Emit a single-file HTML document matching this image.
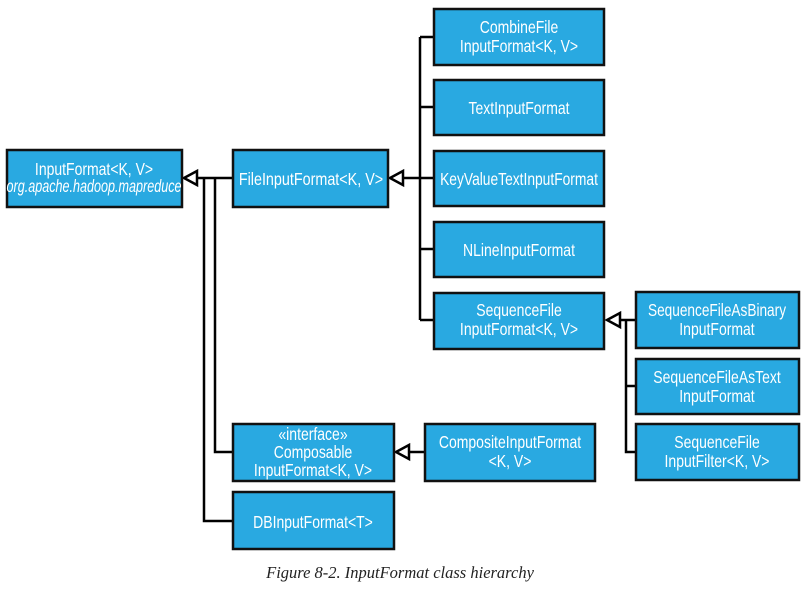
<!DOCTYPE html>
<html><head><meta charset="utf-8"><style>
html,body{margin:0;padding:0;background:#fff;width:808px;height:589px;overflow:hidden}
svg text.t{font-family:"Liberation Sans",sans-serif;font-size:17.5px;fill:#fff;text-anchor:middle}
</style></head><body>
<svg width="808" height="589" xmlns="http://www.w3.org/2000/svg">
<g fill="none" stroke="#000" stroke-width="2.5">
<path d="M197 178H233"/>
<path d="M204 178V521H233"/>
<path d="M215 178V452H233"/>
<path d="M404 178H420"/>
<path d="M420 37V320"/>
<path d="M420 37H434M420 107H434M420 178H434M420 249H434M420 320H434"/>
<path d="M620 320H636M626 320V452H636M626 386H636"/>
<path d="M410 452H425"/>
</g>
<g fill="#fff" stroke="#000" stroke-width="2.5">
<path d="M184 178L197 171V185Z"/>
<path d="M390 178L403 171V185Z"/>
<path d="M607 320L620 313V327Z"/>
<path d="M396 452L409 445V459Z"/>
</g>
<g fill="#29a9e1" stroke="#111" stroke-width="2.5">
<rect x="7" y="150" width="175" height="57"/>
<rect x="233" y="150" width="155" height="57"/>
<rect x="434" y="9" width="170" height="56"/>
<rect x="434" y="80" width="170" height="55"/>
<rect x="434" y="151" width="170" height="55"/>
<rect x="434" y="222" width="170" height="55"/>
<rect x="434" y="293" width="170" height="56"/>
<rect x="636" y="292" width="163" height="56"/>
<rect x="636" y="359" width="163" height="55"/>
<rect x="636" y="424" width="163" height="56"/>
<rect x="233" y="424" width="161" height="57"/>
<rect x="425" y="424" width="170" height="57"/>
<rect x="233" y="492" width="161" height="57"/>
</g>
<g>
<text class="t" transform="translate(94 175) scale(0.8 1)">InputFormat&lt;K, V&gt;</text>
<text class="t" transform="translate(94 192) scale(0.72 1)" font-style="italic">org.apache.hadoop.mapreduce</text>
<text class="t" transform="translate(311 185) scale(0.82 1)">FileInputFormat&lt;K, V&gt;</text>
<text class="t" transform="translate(519 33) scale(0.8 1)">CombineFile</text>
<text class="t" transform="translate(519 52) scale(0.8 1)">InputFormat&lt;K, V&gt;</text>
<text class="t" transform="translate(519 114) scale(0.8 1)">TextInputFormat</text>
<text class="t" transform="translate(519 185) scale(0.79 1)">KeyValueTextInputFormat</text>
<text class="t" transform="translate(519 256) scale(0.8 1)">NLineInputFormat</text>
<text class="t" transform="translate(519 316) scale(0.8 1)">SequenceFile</text>
<text class="t" transform="translate(519 335) scale(0.8 1)">InputFormat&lt;K, V&gt;</text>
<text class="t" transform="translate(717 316) scale(0.78 1)">SequenceFileAsBinary</text>
<text class="t" transform="translate(717 335) scale(0.8 1)">InputFormat</text>
<text class="t" transform="translate(717 383) scale(0.8 1)">SequenceFileAsText</text>
<text class="t" transform="translate(717 402) scale(0.8 1)">InputFormat</text>
<text class="t" transform="translate(717 448) scale(0.8 1)">SequenceFile</text>
<text class="t" transform="translate(717 467) scale(0.8 1)">InputFilter&lt;K, V&gt;</text>
<text class="t" transform="translate(313 440) scale(0.8 1)">«interface»</text>
<text class="t" transform="translate(313 458) scale(0.8 1)">Composable</text>
<text class="t" transform="translate(313 476) scale(0.8 1)">InputFormat&lt;K, V&gt;</text>
<text class="t" transform="translate(510 448) scale(0.8 1)">CompositeInputFormat</text>
<text class="t" transform="translate(510 467) scale(0.8 1)">&lt;K, V&gt;</text>
<text class="t" transform="translate(313 528) scale(0.8 1)">DBInputFormat&lt;T&gt;</text>
</g>
<text x="400" y="578" text-anchor="middle" style="font-family:'Liberation Serif',serif;font-style:italic;font-size:16.5px;fill:#222">Figure 8-2. InputFormat class hierarchy</text>
</svg>
</body></html>
